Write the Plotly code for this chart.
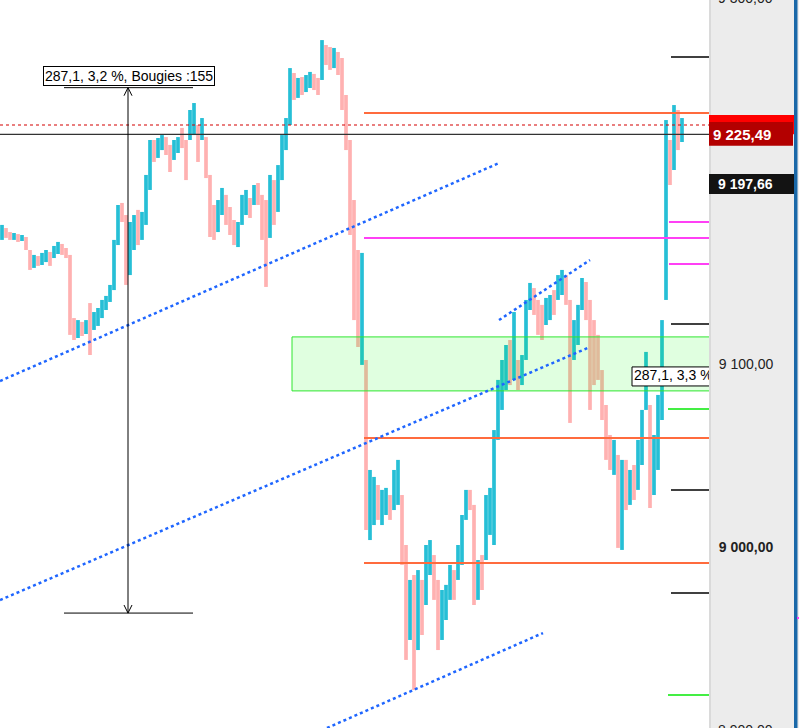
import plotly.graph_objects as go

# ---------------- data ----------------
high = [
    9176.0, 9174.3, 9172.1, 9171.6, 9171.0, 9170.5, 9169.4, 9162.3, 9159.6, 9159.0,
    9160.7, 9162.3, 9161.2, 9164.5, 9166.7, 9165.6, 9163.4, 9159.6, 9125.1, 9124.0,
    9123.0, 9124.0, 9133.3, 9128.4, 9130.6, 9135.0, 9137.2, 9143.2, 9167.8, 9186.9,
    9188.0, 9181.4, 9177.6, 9181.4, 9184.2, 9183.1, 9203.3, 9222.4, 9222.4, 9223.5,
    9225.1, 9224.0, 9219.7, 9222.4, 9224.0, 9229.0, 9222.4, 9238.8, 9242.6, 9230.6,
    9234.4, 9224.0, 9203.3, 9186.9, 9189.6, 9196.2, 9192.4, 9185.8, 9178.7, 9177.6,
    9192.4, 9195.1, 9190.7, 9197.8, 9198.9, 9192.4, 9189.6, 9203.3, 9200.5, 9208.7,
    9225.1, 9234.4, 9261.7, 9259.0, 9256.3, 9256.8, 9257.9, 9259.6, 9258.5, 9256.3,
    9277.0, 9274.3, 9273.2, 9272.7, 9270.5, 9267.2, 9247.0, 9222.4, 9189.6, 9162.3,
    9160.7, 9102.2, 9042.1, 9038.3, 9033.9, 9031.2, 9032.3, 9028.4, 9042.1, 9047.6,
    9028.4, 9001.1, 8982.0, 8984.7, 8987.4, 8982.0, 9001.1, 9003.8, 8995.6, 8982.0,
    8976.5, 8979.3, 8990.2, 8987.4, 9001.1, 9017.5, 9031.2, 9031.2, 9023.0, 8992.9,
    8995.6, 9028.4, 9032.3, 9063.9, 9091.3, 9102.2, 9110.4, 9113.1, 9128.4, 9102.2,
    9104.9, 9135.0, 9144.3, 9141.5, 9135.0, 9132.3, 9136.1, 9137.7, 9140.4, 9148.6,
    9151.4, 9148.6, 9135.0, 9124.0, 9132.3, 9147.0, 9144.8, 9135.0, 9124.0, 9115.9,
    9096.7, 9077.6, 9061.2, 9058.5, 9050.3, 9047.6, 9047.6, 9042.1, 9044.8, 9058.5,
    9074.9, 9106.6, 9077.6, 9061.2, 9083.1, 9124.0, 9233.3, 9222.4, 9241.5, 9238.8,
    9234.4,
]
low = [
    9167.8, 9168.9, 9167.8, 9167.8, 9166.7, 9167.2, 9162.3, 9151.4, 9152.5, 9153.6,
    9154.1, 9155.7, 9153.6, 9157.9, 9160.1, 9159.6, 9157.9, 9115.9, 9113.1, 9114.2,
    9115.3, 9116.4, 9104.9, 9118.6, 9120.8, 9125.1, 9129.5, 9133.9, 9140.4, 9165.0,
    9177.6, 9143.2, 9148.6, 9162.3, 9165.0, 9167.8, 9176.0, 9195.1, 9210.4, 9212.6,
    9216.9, 9214.2, 9204.9, 9211.5, 9215.3, 9218.0, 9200.5, 9222.4, 9225.1, 9210.4,
    9222.4, 9201.6, 9169.4, 9167.8, 9172.1, 9181.4, 9176.0, 9170.5, 9165.0, 9163.9,
    9176.0, 9181.4, 9179.8, 9186.9, 9186.9, 9167.8, 9142.1, 9168.9, 9176.0, 9183.1,
    9200.5, 9216.9, 9230.6, 9244.3, 9245.4, 9247.0, 9248.6, 9250.8, 9249.7, 9247.0,
    9255.2, 9263.4, 9260.7, 9261.7, 9257.9, 9238.8, 9216.9, 9170.5, 9124.0, 9109.3,
    9099.5, 9009.3, 9003.8, 9012.0, 9014.8, 9012.0, 9017.5, 9014.8, 9020.2, 9023.0,
    8990.2, 8938.3, 8949.2, 8921.9, 8943.7, 8951.9, 8968.3, 8984.7, 8971.1, 8943.7,
    8949.2, 8960.1, 8971.1, 8971.1, 8982.0, 8990.2, 9014.8, 9020.2, 8968.3, 8971.1,
    8976.5, 8992.9, 9006.6, 9001.1, 9058.5, 9074.9, 9085.8, 9088.5, 9091.3, 9085.8,
    9088.5, 9102.2, 9129.5, 9126.8, 9115.9, 9113.1, 9121.3, 9124.0, 9126.8, 9135.0,
    9137.7, 9132.3, 9067.8, 9102.2, 9110.4, 9129.5, 9124.0, 9074.9, 9088.5, 9091.3,
    9069.4, 9047.6, 9042.1, 9039.4, 8999.5, 8998.4, 9020.2, 9023.0, 9025.7, 9031.2,
    9044.8, 9074.9, 9021.3, 9028.4, 9042.1, 9069.4, 9135.0, 9197.8, 9206.0, 9216.9,
    9221.3,
]
close = [
    9174.3, 9169.9, 9168.9, 9171.0, 9167.8, 9169.9, 9163.4, 9153.6, 9158.5, 9154.6,
    9159.6, 9161.2, 9155.7, 9163.4, 9165.6, 9161.2, 9159.0, 9121.3, 9115.9, 9122.4,
    9117.0, 9123.0, 9118.6, 9127.3, 9129.5, 9133.9, 9136.1, 9141.5, 9165.0, 9185.2,
    9179.8, 9151.4, 9173.2, 9178.7, 9168.9, 9181.4, 9200.5, 9219.7, 9212.6, 9221.3,
    9224.0, 9216.9, 9208.7, 9220.8, 9223.0, 9219.7, 9206.0, 9236.1, 9239.9, 9214.2,
    9232.2, 9206.0, 9176.0, 9172.1, 9186.9, 9194.0, 9179.8, 9174.3, 9167.8, 9175.4,
    9189.6, 9193.4, 9182.0, 9196.2, 9189.6, 9173.2, 9170.5, 9197.8, 9181.4, 9206.0,
    9222.4, 9232.2, 9257.9, 9247.0, 9254.1, 9249.7, 9256.3, 9257.9, 9251.9, 9248.6,
    9274.3, 9266.1, 9263.4, 9270.5, 9260.7, 9244.3, 9222.4, 9178.7, 9135.0, 9115.9,
    9151.4, 9025.7, 9036.6, 9037.7, 9019.1, 9028.4, 9031.2, 9017.5, 9039.4, 9044.8,
    8995.6, 8949.2, 8976.5, 8943.7, 8982.0, 8957.4, 8995.6, 9001.1, 8976.5, 8951.9,
    8971.1, 8976.5, 8987.4, 8975.4, 8998.4, 9014.8, 9028.4, 9023.0, 8976.5, 8990.2,
    8980.9, 9025.7, 9030.1, 9058.5, 9088.5, 9099.5, 9107.7, 9094.0, 9124.0, 9088.5,
    9102.2, 9132.3, 9142.1, 9129.5, 9118.6, 9115.9, 9133.9, 9136.1, 9129.5, 9145.9,
    9149.7, 9135.0, 9113.1, 9121.3, 9129.5, 9144.8, 9126.8, 9102.2, 9094.0, 9092.4,
    9072.1, 9050.3, 9044.8, 9055.7, 9009.3, 9042.1, 9025.7, 9039.4, 9028.4, 9055.7,
    9072.1, 9103.3, 9031.2, 9058.5, 9080.3, 9121.3, 9227.9, 9201.6, 9237.7, 9219.7,
    9225.49,
]
first_open = 9168.9

last_price = 9225.49
ask_price = 9230.6
marker_price = 9197.66
orange_levels = [9237.2, 9059.6, 8991.3]
magenta_long = 9168.9
magenta_short = [9177.6, 9154.6]
gray_short = [9267.8, 9121.9, 9031.1, 8974.9]
green_short = [9075.4, 8919.2]
zone_top, zone_bottom = 9114.8, 9085.3
measure_top, measure_bottom = 9251.0, 8963.9
axis_ticks = [9100, 9000]
axis_ticktext = ["9 100,00", "<b>9 000,00</b>"]
edge_ticks = [9300, 8900]
edge_ticktext = ["9 300,00", "8 900,00"]
# trendlines: (bar index, price) pairs
trendlines = [
    ((-0.5, 9090.7), (124.25, 9209.8)),
    ((-0.5, 8971.0), (147.0, 9109.3)),
    ((124.25, 9124.0), (147.0, 9156.8)),
    ((81.25, 8901.1), (135.25, 8953.0)),
]

# ---------------- layout constants ----------------
Y_MIN, Y_MAX = 8901.1, 9298.9
X_MIN, X_MAX = -0.5, 176.75
PLOT_W = 709
FONT = "Liberation Sans, Arial, sans-serif"
UP, DOWN = "#26bfd6", "#ffb1b1"

idx = list(range(len(close)))
opens = [first_open] + close[:-1]
colors = [UP if c >= o else DOWN for o, c in zip(opens, close)]

fig = go.Figure()
fig.add_trace(go.Bar(
    x=idx, base=low, y=[h - l for h, l in zip(high, low)],
    marker=dict(color=colors, line=dict(width=0)), width=0.92,
    hoverinfo="skip",
))

# green zone (semi transparent, above bars)
zx0, zx1 = 72.5, X_MAX + 5
fig.add_trace(go.Scatter(
    x=[zx0, zx1, zx1, zx0, zx0], y=[zone_bottom, zone_bottom, zone_top, zone_top, zone_bottom],
    fill="toself", fillcolor="rgba(0,255,0,0.12)", mode="lines",
    line=dict(color="#2ee62e", width=1), hoverinfo="skip",
))
# second measurement label (clipped by plot area)
bx0, bx1, by0, by1 = 157.5, X_MAX + 5, 9088.0, 9098.4
fig.add_trace(go.Scatter(
    x=[bx0, bx1, bx1, bx0, bx0], y=[by0, by0, by1, by1, by0],
    fill="toself", fillcolor="white", mode="lines",
    line=dict(color="black", width=1), hoverinfo="skip",
))
fig.add_trace(go.Scatter(
    x=[158.0], y=[(by0 + by1) / 2], mode="text", text=["287,1, 3,3 %"],
    textposition="middle right", textfont=dict(family=FONT, size=14, color="black"),
    hoverinfo="skip",
))

shapes = []


def hline(y, x0, x1, color, width, dash=None, xref="x"):
    shapes.append(dict(type="line", xref=xref, yref="y", x0=x0, x1=x1, y0=y, y1=y,
                       line=dict(color=color, width=width, dash=dash), layer="above"))


hline(ask_price, 0, 1, "#d40000", 1.2, "3px,3px", xref="paper")
hline(last_price, 0, 1, "#333333", 1.2, xref="paper")
for lv in orange_levels:
    hline(lv, 90.5, X_MAX, "#ff6b3d", 2)
hline(magenta_long, 90.5, X_MAX, "#ff40f5", 2)
for lv in magenta_short:
    hline(lv, 166.75, X_MAX, "#ff40f5", 2)
for lv in gray_short:
    hline(lv, 167.25, X_MAX, "#404040", 2)
for lv in green_short:
    hline(lv, 166.5, X_MAX, "#44ee44", 2)

for (a, b) in trendlines:
    shapes.append(dict(type="line", xref="x", yref="y", x0=a[0], y0=a[1], x1=b[0], y1=b[1],
                       line=dict(color="#1f66ff", width=2.5, dash="dot"), layer="above"))

# measurement tool
mx = 31.5
shapes.append(dict(type="line", xref="x", yref="y", x0=mx, x1=mx, y0=measure_bottom, y1=measure_top,
                   line=dict(color="black", width=1), layer="above"))
for lv in (measure_top, measure_bottom):
    hline(lv, 15.5, 47.75, "black", 1)
ah = 4.4
shapes.append(dict(type="path", xref="x", yref="y",
                   path=f"M {mx-1},{measure_top-ah} L {mx},{measure_top} L {mx+1},{measure_top-ah}",
                   line=dict(color="black", width=1), layer="above"))
shapes.append(dict(type="path", xref="x", yref="y",
                   path=f"M {mx-1},{measure_bottom+ah} L {mx},{measure_bottom} L {mx+1},{measure_bottom+ah}",
                   line=dict(color="black", width=1), layer="above"))

# right price panel
px = lambda p: p / PLOT_W
py = lambda v: (v - Y_MIN) / (Y_MAX - Y_MIN)
shapes.append(dict(type="rect", xref="paper", yref="paper", x0=1.0, x1=px(800), y0=0, y1=1,
                   fillcolor="#ececec", line=dict(width=0), layer="below"))
shapes.append(dict(type="rect", xref="paper", yref="paper", x0=1.0, x1=px(711), y0=0, y1=1,
                   fillcolor="#dadada", line=dict(width=0), layer="below"))
shapes.append(dict(type="rect", xref="paper", yref="paper", x0=px(794), x1=px(797.5), y0=0, y1=1,
                   fillcolor="#1a68a8", line=dict(width=0), layer="below"))
shapes.append(dict(type="rect", xref="paper", yref="y", x0=px(709), x1=px(794),
                   y0=ask_price - 5.0, y1=ask_price + 5.5,
                   fillcolor="#ff0000", line=dict(width=0), layer="below"))
shapes.append(dict(type="rect", xref="paper", yref="y", x0=px(709), x1=px(793),
                   y0=last_price - 6.2, y1=last_price + 6.7,
                   fillcolor="#b30000", line=dict(width=0), layer="below"))
shapes.append(dict(type="rect", xref="paper", yref="y", x0=px(709), x1=px(794),
                   y0=marker_price - 4.8, y1=marker_price + 6.2,
                   fillcolor="#131313", line=dict(width=0), layer="below"))
shapes.append(dict(type="line", xref="paper", yref="y", x0=px(797), x1=px(800),
                   y0=8961.2, y1=8961.2, line=dict(color="#ff40f5", width=2), layer="below"))

annotations = [
    dict(text="287,1, 3,2 %, Bougies :155", x=31.75, y=9257.4, xref="x", yref="y",
         showarrow=False, bgcolor="white", bordercolor="black", borderwidth=1, borderpad=1,
         font=dict(family=FONT, size=14, color="black")),
    dict(text="<b>9 225,49</b>", x=px(711), y=last_price, xref="paper", yref="y",
         xanchor="left", showarrow=False, font=dict(family=FONT, size=15, color="white")),
    dict(text="<b>9 197,66</b>", x=px(716), y=marker_price + 0.7, xref="paper", yref="y",
         xanchor="left", showarrow=False, font=dict(family=FONT, size=14, color="white")),
]
for v, t in zip(edge_ticks, edge_ticktext):
    annotations.append(dict(text=t, x=px(716), y=py(v), xref="paper", yref="paper",
                            xanchor="left", yanchor="middle", showarrow=False,
                            font=dict(family=FONT, size=14, color="#222222")))

fig.update_layout(
    width=799, height=728,
    margin=dict(l=0, r=90, t=0, b=0),
    paper_bgcolor="white", plot_bgcolor="white",
    showlegend=False,
    xaxis=dict(range=[X_MIN, X_MAX], visible=False, fixedrange=True),
    yaxis=dict(range=[Y_MIN, Y_MAX], side="right", showgrid=False, zeroline=False,
               showline=False, tickvals=axis_ticks, ticktext=axis_ticktext,
               ticks="outside", ticklen=6, tickcolor="rgba(0,0,0,0)",
               tickfont=dict(family=FONT, size=14, color="#222222"), fixedrange=True),
    shapes=shapes,
    annotations=annotations,
    font=dict(family=FONT),
)

fig.write_html("out.html", config={"displayModeBar": False},
               post_script="document.body.style.margin='0';document.body.style.padding='0';")
